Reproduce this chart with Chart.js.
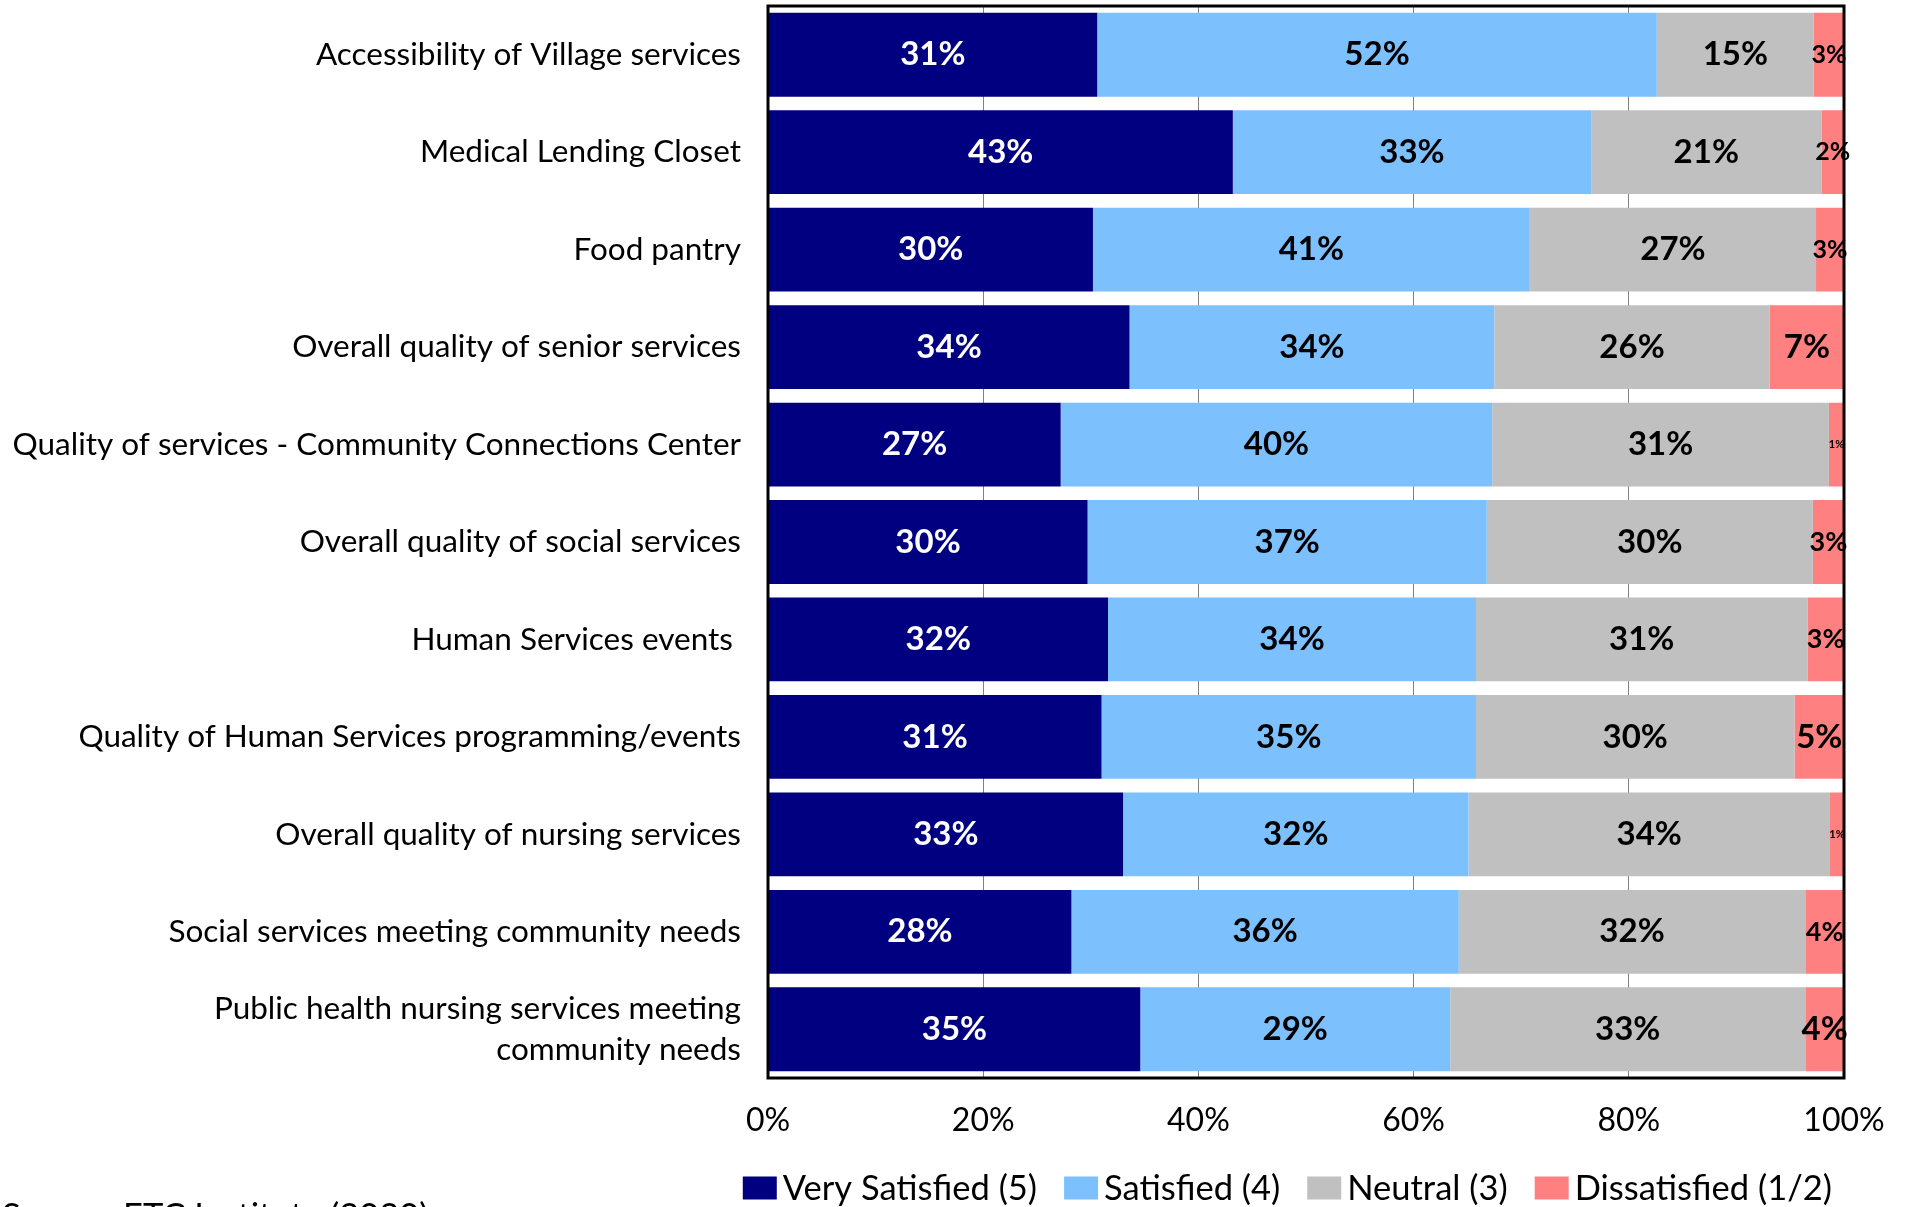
<!DOCTYPE html>
<html>
<head>
<meta charset="utf-8">
<script src="https://cdn.jsdelivr.net/npm/chart.js@4.4.0/dist/chart.umd.min.js"></script>
<style>
  html, body { margin: 0; padding: 0; overflow: hidden; background: #fff; }
  #wrap { position: relative; width: 1906px; height: 1240px; }
</style>
</head>
<body>
<div id="wrap"><canvas id="chart"></canvas></div>
<script>
const categories = [
    'Accessibility of Village services',
    'Medical Lending Closet',
    'Food pantry',
    'Overall quality of senior services',
    'Quality of services - Community Connections Center',
    'Overall quality of social services',
    'Human Services events ',
    'Quality of Human Services programming/events',
    'Overall quality of nursing services',
    'Social services meeting community needs',
    ['Public health nursing services meeting', 'community needs']
];

const verySatisfied = [30.6, 43.2, 30.2, 33.6, 27.2, 29.7, 31.6, 31.0, 33.0, 28.2, 34.6];
const satisfied = [52.0, 33.3, 40.6, 33.9, 40.1, 37.1, 34.2, 34.8, 32.1, 36.0, 28.8];
const neutral = [14.6, 21.4, 26.6, 25.6, 31.3, 30.3, 30.8, 29.6, 33.6, 32.2, 33.0];
const dissatisfied = [2.8, 2.1, 2.6, 6.9, 1.4, 2.9, 3.4, 4.6, 1.3, 3.6, 3.6];

const seriesNames = ['Very Satisfied (5)', 'Satisfied (4)', 'Neutral (3)', 'Dissatisfied (1/2)'];
const xTicks = [0, 20, 40, 60, 80, 100];

// the thin red segments get shrunk labels
const dissatisfiedLabelSizes = [25, 25, 25, 33, 11, 27, 27, 33, 11, 27, 33];

const FONT = 'Lato';

const frame = {
    id: 'frame',
    afterDatasetsDraw(chart) {
        const { ctx, chartArea: a } = chart;
        ctx.save();
        ctx.strokeStyle = '#000';
        ctx.lineWidth = 3;
        ctx.strokeRect(a.left, a.top, a.right - a.left, a.bottom - a.top);
        ctx.restore();
    }
};

const segmentLabels = {
    id: 'segmentLabels',
    afterDatasetsDraw(chart) {
        const ctx = chart.ctx;
        ctx.save();
        ctx.textAlign = 'center';
        ctx.textBaseline = 'middle';
        chart.data.datasets.forEach((ds, i) => {
            chart.getDatasetMeta(i).data.forEach((bar, j) => {
                const size = i === 3 ? dissatisfiedLabelSizes[j] : 33;
                ctx.font = `bold ${size}px ${FONT}`;
                ctx.fillStyle = i === 0 ? '#fff' : '#000';
                ctx.fillText(Math.round(ds.data[j]) + '%', (bar.x + bar.base) / 2, bar.y);
            });
        });
        ctx.restore();
    }
};

// legend row drawn by hand: tight box-to-text gap, right end near the plot's right edge
const bottomLegend = {
    id: 'bottomLegend',
    afterDraw(chart) {
        const ctx = chart.ctx;
        const boxW = 34, boxH = 23, textGap = 6, itemGap = 27;
        const cy = 1188;
        ctx.save();
        ctx.font = `34.5px ${FONT}`;
        ctx.textBaseline = 'middle';
        ctx.textAlign = 'left';
        const items = chart.data.datasets.map(ds => ({
            text: ds.label,
            color: ds.backgroundColor,
            w: ctx.measureText(ds.label).width
        }));
        const total = items.reduce((s, it) => s + boxW + textGap + it.w, 0) + itemGap * (items.length - 1);
        let x = 1832 - total;
        items.forEach(it => {
            ctx.fillStyle = it.color;
            ctx.fillRect(x, cy - boxH / 2, boxW, boxH);
            ctx.fillStyle = '#000';
            ctx.fillText(it.text, x + boxW + textGap, cy + 1);
            x += boxW + textGap + it.w + itemGap;
        });
        ctx.restore();
    }
};

const sourceNote = {
    id: 'sourceNote',
    afterDraw(chart) {
        const ctx = chart.ctx;
        ctx.save();
        ctx.font = `34.5px ${FONT}`;
        ctx.fillStyle = '#000';
        ctx.textAlign = 'left';
        ctx.textBaseline = 'alphabetic';
        ctx.fillText('Source: ETC Institute (2020)', 2, 1228);
        ctx.restore();
    }
};

const colors = ['#000080', '#7DC0FE', '#C0C0C0', '#FF8080'];
const values = [verySatisfied, satisfied, neutral, dissatisfied];

new Chart(document.getElementById('chart'), {
    type: 'bar',
    data: {
        labels: categories,
        datasets: values.map((data, i) => ({
            label: seriesNames[i],
            data: data,
            backgroundColor: colors[i],
            borderWidth: 0,
            categoryPercentage: 1,
            barPercentage: 0.86
        }))
    },
    options: {
        indexAxis: 'y',
        responsive: true,
        maintainAspectRatio: false,
        animation: false,
        devicePixelRatio: 1,
        layout: { padding: { top: 6, right: 62, bottom: 96.25, left: 0 } },
        plugins: {
            tooltip: { enabled: false },
            legend: { display: false }
        },
        scales: {
            x: {
                stacked: true,
                min: 0,
                max: 100,
                afterBuildTicks: scale => { scale.ticks = xTicks.map(v => ({ value: v })); },
                afterFit: scale => {
                    scale.height = 65.75;
                    scale.paddingRight = 0;
                },
                border: { display: false },
                grid: { color: '#808080', lineWidth: 1, drawTicks: false },
                ticks: {
                    padding: 23.8,
                    color: '#000',
                    font: { family: FONT, size: 32 },
                    callback: v => v + '%'
                }
            },
            y: {
                stacked: true,
                afterFit: scale => {
                    scale.width = 768;
                    scale.paddingTop = 0;
                    scale.paddingBottom = 0;
                },
                border: { display: false },
                grid: { display: false },
                ticks: {
                    padding: 19,
                    color: '#000',
                    font: { family: FONT, size: 31.5, lineHeight: 1.3 }
                }
            }
        }
    },
    plugins: [frame, segmentLabels, bottomLegend, sourceNote]
});
</script>
</body>
</html>
